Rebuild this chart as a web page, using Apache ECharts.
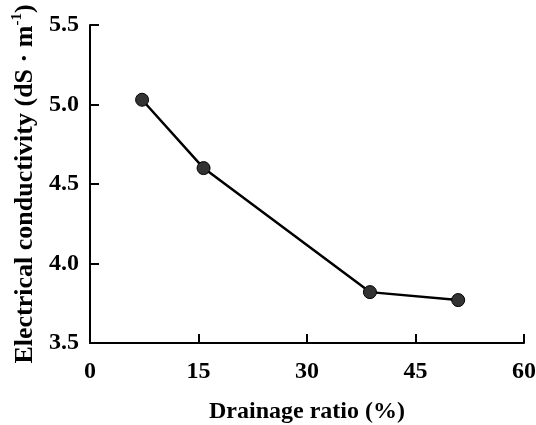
<!DOCTYPE html>
<html>
<head>
<meta charset="utf-8">
<script src="https://cdn.jsdelivr.net/npm/echarts@6/dist/echarts.min.js"></script>
<style>
  html, body { margin: 0; padding: 0; background: #fff; }
  #main { width: 536px; height: 425px; }
</style>
</head>
<body>
<div id="main"></div>
<script>
// drainage ratio (%) vs electrical conductivity (dS/m)
var drainRatio = [7.2, 15.7, 38.7, 50.9];
var ecValues = [5.03, 4.6, 3.82, 3.77];
var xTicks = [0, 15, 30, 45, 60];
var yTicks = [3.5, 4.0, 4.5, 5.0, 5.5];

var font = '"Liberation Serif", "Times New Roman", serif';

var points = [];
for (var i = 0; i < drainRatio.length; i++) {
  points.push([drainRatio[i], ecValues[i]]);
}

var chart = echarts.init(document.getElementById('main'), null, { renderer: 'canvas' });

var option = {
  backgroundColor: '#fff',
  animation: false,
  grid: {
    left: 90,
    right: 12,
    top: 25,
    bottom: 82,
    outerBoundsMode: 'none'
  },
  xAxis: {
    type: 'value',
    min: xTicks[0],
    max: xTicks[xTicks.length - 1],
    interval: 15,
    name: 'Drainage ratio (%)',
    nameLocation: 'middle',
    nameGap: 57,
    nameTextStyle: { fontFamily: font, fontWeight: 'bold', fontSize: 24, color: '#000' },
    axisLine: { lineStyle: { color: '#000', width: 2 } },
    axisTick: { inside: true, length: 9, lineStyle: { color: '#000', width: 2 } },
    axisLabel: { fontFamily: font, fontWeight: 'bold', fontSize: 24, color: '#000', margin: 17 },
    splitLine: { show: false }
  },
  yAxis: {
    type: 'value',
    min: yTicks[0],
    max: yTicks[yTicks.length - 1],
    interval: 0.5,
    name: 'Electrical conductivity (dS · m{sup|-1})',
    nameLocation: 'middle',
    nameGap: 43,
    nameTextStyle: {
      fontFamily: font, fontWeight: 'bold', fontSize: 26, color: '#000',
      rich: {
        sup: { fontFamily: font, fontWeight: 'bold', fontSize: 15, color: '#000', padding: [0, 0, 15, 0] }
      }
    },
    axisLine: { show: true, lineStyle: { color: '#000', width: 2 } },
    axisTick: { show: true, inside: true, length: 9, lineStyle: { color: '#000', width: 2 } },
    axisLabel: {
      fontFamily: font, fontWeight: 'bold', fontSize: 24, color: '#000', margin: 11,
      formatter: function (v) { return v.toFixed(1); }
    },
    splitLine: { show: false }
  },
  series: [
    {
      type: 'line',
      data: points,
      symbol: 'circle',
      symbolSize: 13,
      lineStyle: { color: '#000', width: 2.5 },
      itemStyle: { color: '#333', borderColor: '#000', borderWidth: 1 }
    }
  ]
};

chart.setOption(option);
</script>
</body>
</html>
